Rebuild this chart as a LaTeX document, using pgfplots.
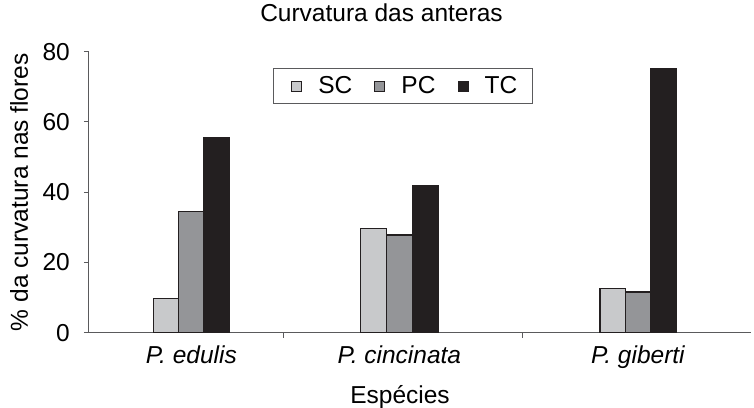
\documentclass[border=0pt]{standalone}
\usepackage{fontspec}
\setmainfont{Liberation Sans}
\usepackage{pgfplots}
\pgfplotsset{compat=1.18}
\definecolor{scgray}{RGB}{200,201,203}
\definecolor{pcgray}{RGB}{148,149,152}
\definecolor{tcdark}{RGB}{35,31,32}
\definecolor{axisgray}{RGB}{90,90,92}
\newcommand\lbl{\fontsize{24.5}{29}\selectfont}

\begin{document}
\begin{tikzpicture}
\begin{axis}[
    at={(0,0)}, anchor=south west,
    scale only axis, width=662pt, height=281pt,
    xmin=89, xmax=751, ymin=0, ymax=80,
    axis lines*=left,
    axis line style={draw=axisgray, line width=1pt},
    tick style={draw=axisgray, line width=1pt},
    tick align=outside, major tick length=5pt,
    ytick={0,20,40,60,80},
    xtick={88.6,283.4,522.8}, xticklabels={},
    extra x ticks={191.4,399.4,638.2},
    extra x tick labels={\textit{P. edulis},\textit{P. cincinata},\textit{P. giberti}},
    extra x tick style={major tick length=0pt,
        xticklabel style={anchor=base, yshift=-31pt}},
    /pgf/number format/assume math mode=true,
    tick label style={font=\lbl, text=black},
    yticklabel style={anchor=east, inner sep=0pt, xshift=-14pt},
    title={Curvatura das anteras},
    title style={font=\lbl, at={(axis description cs:0.4418,1)}, anchor=base, yshift=24.4pt},
    xlabel={Espécies},
    xlabel style={font=\lbl, at={(axis description cs:0.4698,0)}, anchor=base, yshift=-70.6pt},
    ylabel={\% da curvatura nas flores},
    ylabel style={font=\lbl, at={(axis description cs:-0.1057,0.5)}, anchor=center},
    ybar, bar shift=0pt, bar width=25.5,
    legend columns=3,
    legend style={at={(axis cs:272.7,75.3)}, anchor=north west,
        draw=axisgray, line width=1pt, font=\lbl,
        inner xsep=13pt, inner ysep=6pt,
        /tikz/every odd column/.append style={column sep=14pt},
        /tikz/every even column/.append style={column sep=15pt}},
    legend image code/.code={\path (0pt,0pt);
        \draw[#1, draw=tcdark, line width=1pt] (5pt,-5pt) rectangle (15pt,5pt);},
]
\addplot[fill=scgray, draw=tcdark, line width=1.2pt] coordinates {
    (166.0,9.8) (373.6,29.7) (612.8,12.6)
};
\addplot[fill=pcgray, draw=tcdark, line width=1.2pt] coordinates {
    (191.4,34.4) (399.4,27.8) (638.2,11.6)
};
\addplot[fill=tcdark, draw=tcdark, line width=1.2pt] coordinates {
    (216.8,55.5) (425.2,42.0) (663.6,75.1)
};
\legend{SC, PC, TC}
\end{axis}
\pgfresetboundingbox
\path[use as bounding box] (-89pt,-74.3pt) rectangle (665pt,332.7pt);
\end{tikzpicture}
\end{document}
